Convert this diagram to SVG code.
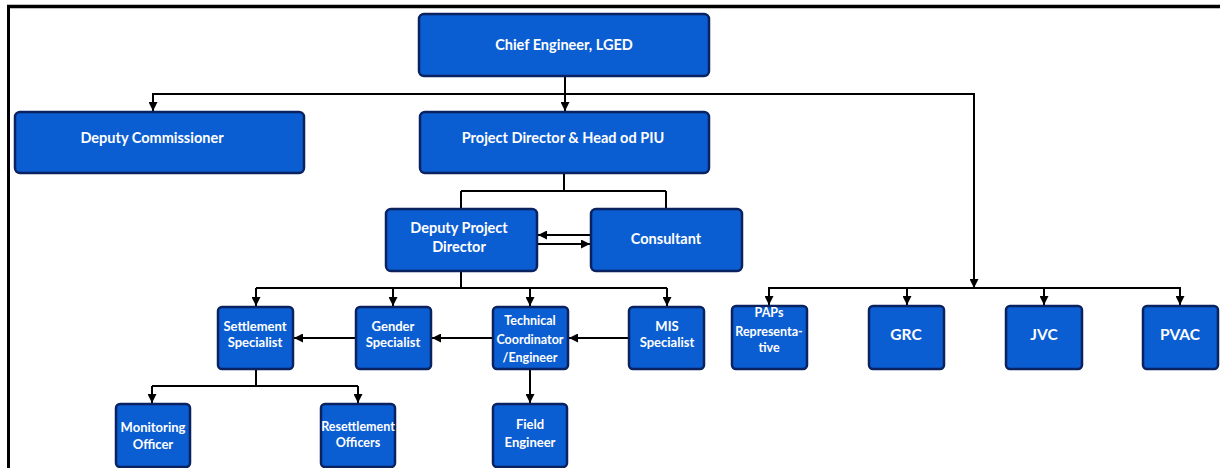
<svg xmlns="http://www.w3.org/2000/svg" width="1220" height="468" viewBox="0 0 1220 468">
<defs>
<marker id="ah" markerUnits="userSpaceOnUse" markerWidth="9" markerHeight="9" viewBox="0 0 10 10" refX="10" refY="5" orient="auto">
<path d="M0,0 L10,5 L0,10 z" fill="#000"/>
</marker>
<style>
.box{fill:#0b5dd2;stroke:#0a2360;stroke-width:2.5}
.t{fill:#fff;font-family:Lato,"Open Sans",sans-serif;font-weight:bold;text-anchor:middle}
.l{font-size:14.5px}
.s{font-size:13px}
.n{font-size:12.5px}
.m{font-size:15.5px}
.c{fill:none;stroke:#000;stroke-width:2}
.a{marker-end:url(#ah)}
.f{fill:none;stroke:#000}
</style>
</defs>
<rect width="1220" height="468" fill="#fff"/>
<g id="frame">
<path class="f" d="M7,6.5 H1220" stroke-width="3.5"/>
<path class="f" d="M8.5,5 V468" stroke-width="3"/>
</g>
<g id="connectors">
<path class="c a" d="M565,76 V111"/>
<path class="c a" d="M565,94 H153 V111"/>
<path class="c a" d="M565,94 H974 V288"/>
<path class="c a" d="M974,288 H769 V305"/>
<path class="c a" d="M974,288 H1180 V305"/>
<path class="c a" d="M907,288 V305"/>
<path class="c a" d="M1044,288 V305"/>
<path class="c" d="M564,172 V191 M461,191 H666 M461,191 V209 M666,191 V209"/>
<path class="c a" d="M591,235 H538"/>
<path class="c a" d="M537,244 H590"/>
<path class="c" d="M461,271 V288 M256,288 H667"/>
<path class="c a" d="M256,288 V306"/>
<path class="c a" d="M393,288 V306"/>
<path class="c a" d="M530,288 V306"/>
<path class="c a" d="M667,288 V306"/>
<path class="c a" d="M629,338 H569"/>
<path class="c a" d="M493,338 H432"/>
<path class="c a" d="M356,338 H294"/>
<path class="c" d="M256,369 V386 M152,386 H358"/>
<path class="c a" d="M152,386 V403"/>
<path class="c a" d="M358,386 V403"/>
<path class="c a" d="M530,369 V403"/>
</g>
<g id="chief"><rect class="box" x="419" y="14" width="290" height="62" rx="5"/><text class="t l" x="564" y="50">Chief Engineer, LGED</text></g>
<g id="dc"><rect class="box" x="15" y="112" width="289" height="61" rx="5"/><text class="t l" x="152" y="143">Deputy Commissioner</text></g>
<g id="pd"><rect class="box" x="420" y="112" width="289" height="61" rx="5"/><text class="t l" x="563" y="143">Project Director &amp; Head od PIU</text></g>
<g id="dpd"><rect class="box" x="386" y="209" width="151" height="62" rx="5"/><text class="t l" x="459" y="233">Deputy Project</text><text class="t l" x="459" y="252">Director</text></g>
<g id="consultant"><rect class="box" x="591" y="209" width="151" height="62" rx="5"/><text class="t l" x="666" y="244">Consultant</text></g>
<g id="settlement"><rect class="box" x="218" y="307" width="75" height="62" rx="4"/><text class="t s" x="255" y="331">Settlement</text><text class="t s" x="255" y="347">Specialist</text></g>
<g id="gender"><rect class="box" x="356" y="307" width="75" height="62" rx="4"/><text class="t s" x="393" y="331">Gender</text><text class="t s" x="393" y="347">Specialist</text></g>
<g id="technical"><rect class="box" x="493" y="307" width="75" height="62" rx="4"/><text class="t n" x="530" y="325">Technical</text><text class="t n" x="530" y="344">Coordinator</text><text class="t n" x="530" y="362">/Engineer</text></g>
<g id="mis"><rect class="box" x="629" y="307" width="75" height="62" rx="4"/><text class="t s" x="667" y="331">MIS</text><text class="t s" x="667" y="347">Specialist</text></g>
<g id="monitoring"><rect class="box" x="116" y="404" width="74" height="63" rx="4"/><text class="t s" x="153" y="432">Monitoring</text><text class="t s" x="153" y="449">Officer</text></g>
<g id="resettlement"><rect class="box" x="321" y="404" width="74" height="63" rx="4"/><text class="t n" x="358" y="431">Resettlement</text><text class="t n" x="358" y="447">Officers</text></g>
<g id="field"><rect class="box" x="493" y="404" width="74" height="63" rx="4"/><text class="t s" x="530" y="429">Field</text><text class="t s" x="530" y="447">Engineer</text></g>
<g id="paps"><rect class="box" x="732" y="306" width="75" height="63" rx="4"/><text class="t n" x="769" y="317">PAPs</text><text class="t n" x="769" y="336">Representa-</text><text class="t n" x="769" y="352">tive</text></g>
<g id="grc"><rect class="box" x="869" y="306" width="75" height="63" rx="4"/><text class="t m" x="906" y="340">GRC</text></g>
<g id="jvc"><rect class="box" x="1006" y="306" width="76" height="63" rx="4"/><text class="t m" x="1044" y="340">JVC</text></g>
<g id="pvac"><rect class="box" x="1143" y="306" width="75" height="63" rx="4"/><text class="t m" x="1180" y="340">PVAC</text></g>
</svg>
